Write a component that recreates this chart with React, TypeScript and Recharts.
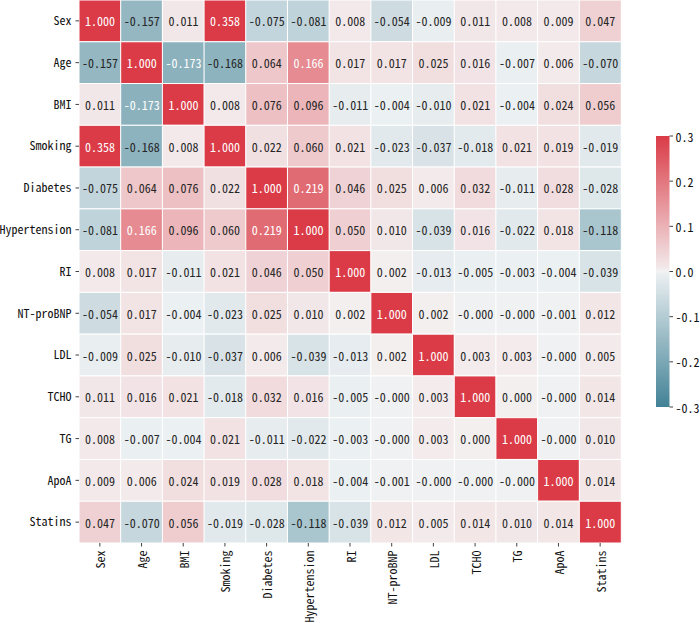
import React from 'react';
import { BarChart, Bar, XAxis, YAxis, Cell, LabelList } from 'recharts';

const LABELS = ['Sex', 'Age', 'BMI', 'Smoking', 'Diabetes', 'Hypertension', 'RI', 'NT-proBNP', 'LDL', 'TCHO', 'TG', 'ApoA', 'Statins'];

const ROW_SEX = [1.0, -0.157, 0.011, 0.358, -0.075, -0.081, 0.008, -0.054, -0.009, 0.011, 0.008, 0.009, 0.047];
const ROW_AGE = [-0.157, 1.0, -0.173, -0.168, 0.064, 0.166, 0.017, 0.017, 0.025, 0.016, -0.007, 0.006, -0.07];
const ROW_BMI = [0.011, -0.173, 1.0, 0.008, 0.076, 0.096, -0.011, -0.004, -0.01, 0.021, -0.004, 0.024, 0.056];
const ROW_SMOKING = [0.358, -0.168, 0.008, 1.0, 0.022, 0.06, 0.021, -0.023, -0.037, -0.018, 0.021, 0.019, -0.019];
const ROW_DIABETES = [-0.075, 0.064, 0.076, 0.022, 1.0, 0.219, 0.046, 0.025, 0.006, 0.032, -0.011, 0.028, -0.028];
const ROW_HYPERTENSION = [-0.081, 0.166, 0.096, 0.06, 0.219, 1.0, 0.05, 0.01, -0.039, 0.016, -0.022, 0.018, -0.118];
const ROW_RI = [0.008, 0.017, -0.011, 0.021, 0.046, 0.05, 1.0, 0.002, -0.013, -0.005, -0.003, -0.004, -0.039];
const ROW_NTPROBNP = [-0.054, 0.017, -0.004, -0.023, 0.025, 0.01, 0.002, 1.0, 0.002, -0.0003, -0.0003, -0.001, 0.012];
const ROW_LDL = [-0.009, 0.025, -0.01, -0.037, 0.006, -0.039, -0.013, 0.002, 1.0, 0.003, 0.003, -0.0003, 0.005];
const ROW_TCHO = [0.011, 0.016, 0.021, -0.018, 0.032, 0.016, -0.005, -0.0003, 0.003, 1.0, 0.0002, -0.0003, 0.014];
const ROW_TG = [0.008, -0.007, -0.004, 0.021, -0.011, -0.022, -0.003, -0.0003, 0.003, 0.0002, 1.0, -0.0003, 0.01];
const ROW_APOA = [0.009, 0.006, 0.024, 0.019, 0.028, 0.018, -0.004, -0.001, -0.0003, -0.0003, -0.0003, 1.0, 0.014];
const ROW_STATINS = [0.047, -0.07, 0.056, -0.019, -0.028, -0.118, -0.039, 0.012, 0.005, 0.014, 0.01, 0.014, 1.0];

const CORR = [ROW_SEX, ROW_AGE, ROW_BMI, ROW_SMOKING, ROW_DIABETES, ROW_HYPERTENSION, ROW_RI, ROW_NTPROBNP, ROW_LDL, ROW_TCHO, ROW_TG, ROW_APOA, ROW_STATINS];

const VMIN = -0.3;
const VMAX = 0.3;
const CB_TICKS = [-0.3, -0.2, -0.1, 0.0, 0.1, 0.2, 0.3];

const NEG = [66, 130, 150];
const NEG_LIGHT = [236, 240, 242];
const MID = [242, 242, 242];
const POS_LIGHT = [243, 236, 237];
const POS = [218, 59, 70];

const FONT = "'Noto Sans Mono CJK SC', 'Noto Sans CJK SC', sans-serif";

function lerp(a: number[], b: number[], f: number) {
  return a.map((x, i) => x + (b[i] - x) * f);
}

function posColor(p: number): number[] {
  const a = 127 / 256;
  const b = 129 / 256;
  if (p <= a) return lerp(NEG, NEG_LIGHT, p / a);
  if (p <= 0.5) return lerp(NEG_LIGHT, MID, (p - a) / (0.5 - a));
  if (p <= b) return lerp(MID, POS_LIGHT, (p - 0.5) / (b - 0.5));
  return lerp(POS_LIGHT, POS, (p - b) / (1 - b));
}

function rgbOf(v: number): number[] {
  let t = (v - VMIN) / (VMAX - VMIN);
  t = Math.min(1, Math.max(0, t));
  const i = Math.min(255, Math.floor(t * 256));
  return posColor(i / 255);
}

function hex(rgb: number[]) {
  return '#' + rgb.map((x) => Math.round(x).toString(16).padStart(2, '0')).join('');
}

function textColor(v: number) {
  const rgb = rgbOf(v).map((c) => {
    const s = c / 255;
    return s <= 0.04045 ? s / 12.92 : Math.pow((s + 0.055) / 1.055, 2.4);
  });
  const lum = 0.2126 * rgb[0] + 0.7152 * rgb[1] + 0.0722 * rgb[2];
  return lum > 0.408 ? '#262626' : '#ffffff';
}

const data = LABELS.map((name, c) => {
  const o: any = { name };
  LABELS.forEach((_, r) => {
    o['r' + r] = 1;
    o['v' + r] = CORR[r][c];
  });
  return o;
});

const Y_TICKS = LABELS.map((_, i) => i + 0.5);

const XTick = (props: any) => {
  const { x, y, payload } = props;
  return (
    <text
      x={x}
      y={y}
      transform={`rotate(-90, ${x}, ${y})`}
      textAnchor="end"
      dominantBaseline="central"
      fontSize={12}
      fontFamily={FONT}
      fill="#111"
    >
      {payload.value}
    </text>
  );
};

const makeLabel = (r: number) => (props: any) => {
  const { x, y, width, height, value } = props;
  if (value === undefined || value === null) return null;
  return (
    <text
      x={x + width / 2}
      y={y + height / 2}
      textAnchor="middle"
      dominantBaseline="central"
      fontSize={12}
      fontFamily={FONT}
      fill={textColor(value)}
    >
      {Number(value).toFixed(3)}
    </text>
  );
};

const CB_X = 656;
const CB_W = 13.5;
const CB_TOP = 136;
const CB_BOTTOM = 407;

const Colorbar = () => {
  const stops: React.ReactNode[] = [];
  const N = 64;
  for (let k = 0; k <= N; k++) {
    const p = k / N;
    stops.push(<stop key={k} offset={`${p * 100}%`} stopColor={hex(posColor(p))} />);
  }
  const yOf = (v: number) => CB_BOTTOM - ((v - VMIN) / (VMAX - VMIN)) * (CB_BOTTOM - CB_TOP);
  return (
    <svg width={700} height={623} style={{ position: 'absolute', left: 0, top: 0, pointerEvents: 'none' }}>
      <defs>
        <linearGradient id="cbgrad" x1="0" y1="1" x2="0" y2="0">
          {stops}
        </linearGradient>
      </defs>
      <rect x={CB_X} y={CB_TOP} width={CB_W} height={CB_BOTTOM - CB_TOP} fill="url(#cbgrad)" />
      {CB_TICKS.map((t) => (
        <g key={t}>
          <line x1={CB_X + CB_W} x2={CB_X + CB_W + 3.5} y1={yOf(t)} y2={yOf(t)} stroke="#111" strokeWidth={0.8} />
          <text
            x={CB_X + CB_W + 6}
            y={yOf(t)}
            dominantBaseline="central"
            fontSize={12}
            fontFamily={FONT}
            fill="#111"
          >
            {t.toFixed(1)}
          </text>
        </g>
      ))}
    </svg>
  );
};

export default function App() {
  return (
    <div style={{ position: 'absolute', left: 0, top: 0, width: 700, height: 623, background: '#fff' }}>
      <BarChart
        width={700}
        height={623}
        data={data}
        margin={{ top: 0, right: 79, bottom: 0, left: 0 }}
        barCategoryGap={0}
        barGap={0}
      >
        <XAxis
          dataKey="name"
          type="category"
          height={80}
          interval={0}
          axisLine={false}
          tickSize={3.5}
          tickMargin={4}
          tickLine={{ stroke: '#111', strokeWidth: 0.8 }}
          tick={<XTick />}
        />
        <YAxis
          type="number"
          domain={[0, 13]}
          reversed
          ticks={Y_TICKS}
          interval={0}
          width={79}
          axisLine={false}
          tickSize={3.5}
          tickMargin={4}
          tickLine={{ stroke: '#111', strokeWidth: 0.8 }}
          tickFormatter={(v: number) => LABELS[Math.floor(v)]}
          tick={{ fontSize: 12, fontFamily: FONT, fill: '#111' }}
        />
        {LABELS.map((_, r) => (
          <Bar key={r} dataKey={'r' + r} stackId="s" isAnimationActive={false} stroke="#ffffff" strokeWidth={1}>
            {LABELS.map((__, c) => (
              <Cell key={c} fill={hex(rgbOf(CORR[r][c]))} />
            ))}
            <LabelList dataKey={'v' + r} content={makeLabel(r)} />
          </Bar>
        ))}
      </BarChart>
      <Colorbar />
    </div>
  );
}
